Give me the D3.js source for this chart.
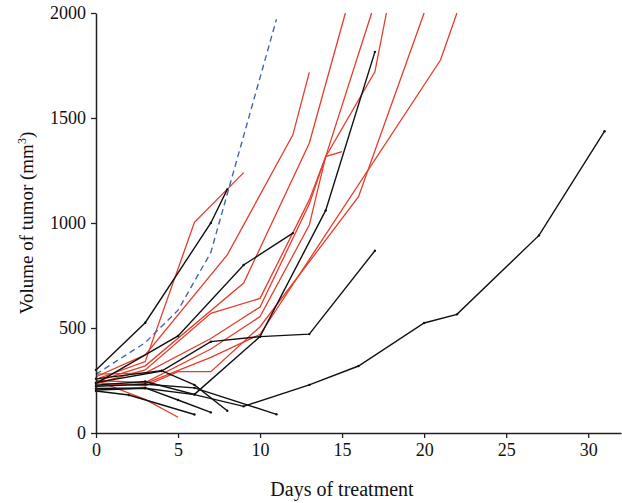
<!DOCTYPE html>
<html>
<head>
<meta charset="utf-8">
<script src="https://cdn.jsdelivr.net/npm/d3@7"></script>
<style>
  body { margin: 0; background: #fff; }
  text { font-family: "Liberation Serif", "Times New Roman", serif; fill: #111; }
</style>
</head>
<body>
<script>

var width = 622,
  height = 503;

// tick labels
var xTicks = [0, 5, 10, 15, 20, 25, 30];
var yTicks = [0, 500, 1000, 1500, 2000];

// black series: [day, volume]
var blackSeries = [
  [[0, 300], [3, 525], [7, 1000], [8, 1160]],
  [[0, 236], [5, 462], [9, 800], [12, 952]],
  [[0, 240], [4, 295], [7, 435], [10, 459], [13, 471], [17, 868]],
  [[0, 228], [3, 245], [6, 184], [10, 459], [14, 1060], [17, 1815]],
  [[0, 205], [3, 213], [6, 183], [9, 127], [13, 229], [16, 319], [20, 524], [22, 565], [27, 941], [31, 1437]],
  [[0, 258], [4, 297], [6, 229], [8, 106]],
  [[0, 222], [3, 232], [6, 215], [11, 89]],
  [[0, 212], [3, 215], [5, 157], [7, 98]],
  [[0, 200], [2, 181], [6, 88]]
];

// red series: [day, volume]
var redSeries = [
  [[0, 255], [3, 340], [6, 1003], [9, 1240]],
  [[0, 268], [3, 372], [8, 848], [12, 1420], [13, 1717]],
  [[0, 245], [3, 320], [9, 714], [13, 1380], [15.2, 2000]],
  [[0, 235], [3, 300], [7, 570], [10, 641], [13, 1110], [14, 1316], [16.8, 2000]],
  [[0, 250], [3, 240], [7, 400], [10, 554], [13, 990], [14, 1316], [17, 1720], [17.7, 2000]],
  [[0, 280], [3, 285], [7, 450], [10, 600], [13, 1090], [14, 1316], [15, 1340]],
  [[0, 240], [3, 225], [5, 292], [7, 292], [10, 506], [16, 1125], [20, 2000]],
  [[0, 225], [3, 235], [7, 360], [10, 470], [21, 1776], [22, 2000]],
  [[0, 250], [3, 160], [5, 75]]
];

// blue dashed series
var blueSeries = [[0, 280], [3, 430], [5, 585], [7, 860], [11, 1970]];

var svg = d3.select("body").append("svg")
  .attr("width", width)
  .attr("height", height);

var x = d3.scaleLinear().domain([0, 32]).range([96, 621]);
var y = d3.scaleLinear().domain([0, 2000]).range([433, 13]);

var line = d3.line()
  .x(function(d){ return x(d[0]); })
  .y(function(d){ return y(d[1]); });

// red lines
svg.append("g").selectAll("path").data(redSeries).enter().append("path")
  .attr("d", line)
  .attr("fill", "none")
  .attr("stroke", "#e63c2b")
  .attr("stroke-width", 1.3);

// black lines
svg.append("g").selectAll("path").data(blackSeries).enter().append("path")
  .attr("d", line)
  .attr("fill", "none")
  .attr("stroke", "#111")
  .attr("stroke-width", 1.4);

// small dots at black vertices
svg.append("g").selectAll("circle").data(d3.merge(blackSeries)).enter().append("circle")
  .attr("cx", function(d){ return x(d[0]); })
  .attr("cy", function(d){ return y(d[1]); })
  .attr("r", 1.2)
  .attr("fill", "#111");

// blue dashed line
svg.append("path")
  .datum(blueSeries)
  .attr("d", line)
  .attr("fill", "none")
  .attr("stroke", "#4565b3")
  .attr("stroke-width", 1.4)
  .attr("stroke-dasharray", "6,4");

// axes
var xAxis = svg.append("g")
  .attr("transform", "translate(0," + y(0) + ")")
  .call(d3.axisBottom(x).tickValues(xTicks).tickSize(5).tickSizeOuter(0).tickPadding(5));

var yAxis = svg.append("g")
  .attr("transform", "translate(" + x(0) + ",0)")
  .call(d3.axisLeft(y).tickValues(yTicks).tickFormat(d3.format("d"))
    .tickSize(5).tickSizeOuter(0).tickPadding(5));

[xAxis, yAxis].forEach(function(g){
  g.select(".domain").attr("stroke", "#222").attr("stroke-width", 1.5);
  g.selectAll(".tick line").attr("stroke", "#222").attr("stroke-width", 1.3);
  g.selectAll(".tick text")
    .style("font-family", "'Liberation Serif', serif")
    .style("font-size", "18px")
    .attr("fill", "#111");
});

// axis titles
svg.append("text")
  .attr("x", 342)
  .attr("y", 496)
  .attr("text-anchor", "middle")
  .style("font-size", "20px")
  .text("Days of treatment");

var yl = svg.append("text")
  .attr("transform", "translate(33," + (y(1000)) + ") rotate(-90)")
  .attr("text-anchor", "middle")
  .style("font-size", "19px");
yl.append("tspan").text("Volume of tumor (mm");
yl.append("tspan").attr("dy", -7).style("font-size", "12px").text("3");
yl.append("tspan").attr("dy", 7).text(")");

</script>
</body>
</html>
